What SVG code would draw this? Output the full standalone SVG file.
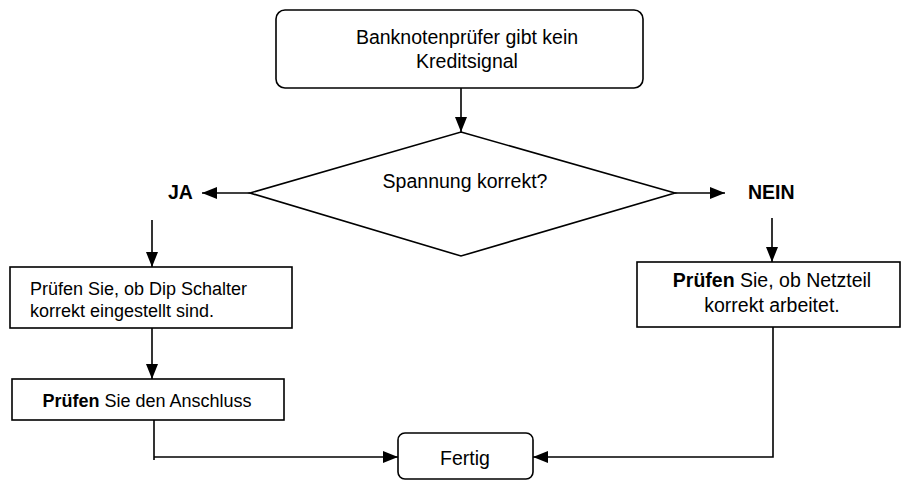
<svg xmlns="http://www.w3.org/2000/svg" width="901" height="481" viewBox="0 0 901 481">
<style>
.box{fill:#fff;stroke:#000;stroke-width:1.6}
.t{font-family:"Liberation Sans",Arial,sans-serif;font-size:19.5px;fill:#000}
.s{font-size:18px}
.b{font-weight:bold}
.c{text-anchor:middle}
.ln{fill:none;stroke:#000;stroke-width:1.6}
</style>
<defs>
<marker id="ah" markerUnits="userSpaceOnUse" markerWidth="15" markerHeight="12" refX="15" refY="6" orient="auto">
<path d="M0,0 L15,6 L0,12 z" fill="#000"/>
</marker>
</defs>
<rect width="901" height="481" fill="#fff"/>
<g id="connectors">
<line class="ln" x1="461" y1="88" x2="461" y2="132" marker-end="url(#ah)"/>
<line class="ln" x1="250" y1="193" x2="202" y2="193" marker-end="url(#ah)"/>
<line class="ln" x1="675" y1="193" x2="725" y2="193" marker-end="url(#ah)"/>
<line class="ln" x1="152" y1="220" x2="152" y2="267" marker-end="url(#ah)"/>
<line class="ln" x1="772" y1="218" x2="772" y2="262" marker-end="url(#ah)"/>
<line class="ln" x1="152" y1="328" x2="152" y2="379" marker-end="url(#ah)"/>
<polyline class="ln" points="154,420 154,460"/>
<line class="ln" x1="154" y1="457" x2="398" y2="457" marker-end="url(#ah)"/>
<polyline class="ln" points="773,327 773,457 533,457" stroke-width="2.2" marker-end="url(#ah)"/>
</g>
<g id="start">
<rect class="box" x="276" y="10" width="367" height="78" rx="9"/>
<text class="t c" x="467" y="44">Banknotenprüfer gibt kein</text>
<text class="t c" x="467" y="68">Kreditsignal</text>
</g>
<g id="decision">
<polygon class="box" points="461,132 675,193 461,256 250,193"/>
<text class="t c" x="465" y="188">Spannung korrekt?</text>
</g>
<g id="label-ja">
<text class="t b" x="168" y="199">JA</text>
</g>
<g id="label-nein">
<text class="t b" x="748" y="199">NEIN</text>
</g>
<g id="dip">
<rect class="box" x="10" y="267" width="282" height="61"/>
<text class="t s" x="30" y="295">Prüfen Sie, ob Dip Schalter</text>
<text class="t s" x="30" y="317">korrekt eingestellt sind.</text>
</g>
<g id="anschluss">
<rect class="box" x="12" y="379" width="272" height="41"/>
<text class="t s c" x="147" y="407"><tspan class="b">Prüfen</tspan> Sie den Anschluss</text>
</g>
<g id="netzteil">
<rect class="box" x="637" y="262" width="263" height="65"/>
<text class="t c" x="772" y="287"><tspan class="b">Prüfen</tspan> Sie, ob Netzteil</text>
<text class="t c" x="772" y="312">korrekt arbeitet.</text>
</g>
<g id="fertig">
<rect class="box" x="398" y="433" width="135" height="46" rx="7"/>
<text class="t c" x="465" y="465">Fertig</text>
</g>
</svg>
